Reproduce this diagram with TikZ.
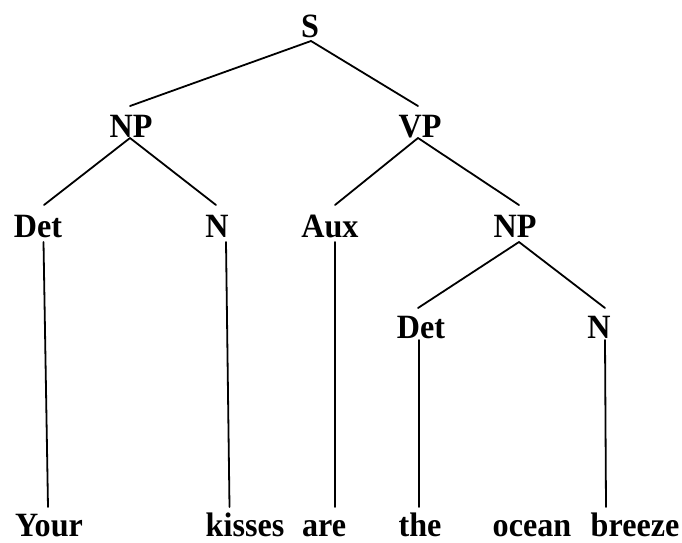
\documentclass[tikz,border=0pt]{standalone}
\usepackage{fontspec}
\setmainfont{Liberation Serif}
\newcommand{\tall}[1]{\scalebox{1.02}[1.08]{#1}}
\begin{document}
\begin{tikzpicture}[x=1pt,y=-1pt,
  lab/.style={anchor=base,inner sep=0pt,text depth=0pt,font=\fontsize{31.5}{31.5}\selectfont\bfseries},
  edge/.style={line width=1.8pt,line cap=round}]
\useasboundingbox (0,0) rectangle (682,542);
% nodes
\node[lab] (S) at (310,37) {\tall{S}};
\node[lab] (NPa) at (131,137) {\tall{NP}};
\node[lab] (VP) at (420,137) {\tall{VP}};
\node[lab] (Deta) at (38,237) {\tall{Det}};
\node[lab] (Na) at (217,237) {\tall{N}};
\node[lab] (Aux) at (330,237) {\tall{Aux}};
\node[lab] (NPb) at (515,237) {\tall{NP}};
\node[lab] (Detb) at (421,338) {\tall{Det}};
\node[lab] (Nb) at (599,338) {\tall{N}};
\node[lab] (w1) at (49,536) {\tall{Your}};
\node[lab] (w2) at (245,536) {\tall{kisses}};
\node[lab] (w3) at (324,536) {\tall{are}};
\node[lab] (w4) at (420,536) {\tall{the}};
\node[lab] (w5) at (532,536) {\tall{ocean}};
\node[lab] (w6) at (635,536) {\tall{breeze}};
% connector end points
\coordinate (S-b) at (311,41);
\coordinate (NPa-t) at (130,106);
\coordinate (VP-t) at (418,106);
\coordinate (NPa-b) at (130,138);
\coordinate (VP-b) at (418,138);
\coordinate (Deta-t) at (44,205);
\coordinate (Na-t) at (216,205);
\coordinate (Aux-t) at (335,205);
\coordinate (NPb-t) at (519,205);
\coordinate (Deta-b) at (43.5,242);
\coordinate (Na-b) at (226,242);
\coordinate (Aux-b) at (335,242);
\coordinate (NPb-b) at (519,242);
\coordinate (Detb-t) at (418,308);
\coordinate (Nb-t) at (605,308);
\coordinate (Detb-b) at (419,340);
\coordinate (Nb-b) at (605,340);
\coordinate (w1-t) at (48,507);
\coordinate (w2-t) at (229.5,507);
\coordinate (w3-t) at (335,507);
\coordinate (w4-t) at (419,507);
\coordinate (w5-t) at (606,507);
% connectors
\draw[edge] (S-b) -- (NPa-t);
\draw[edge] (S-b) -- (VP-t);
\draw[edge] (NPa-b) -- (Deta-t);
\draw[edge] (NPa-b) -- (Na-t);
\draw[edge] (VP-b) -- (Aux-t);
\draw[edge] (VP-b) -- (NPb-t);
\draw[edge] (NPb-b) -- (Detb-t);
\draw[edge] (NPb-b) -- (Nb-t);
\draw[edge] (Deta-b) -- (w1-t);
\draw[edge] (Na-b) -- (w2-t);
\draw[edge] (Aux-b) -- (w3-t);
\draw[edge] (Detb-b) -- (w4-t);
\draw[edge] (Nb-b) -- (w5-t);
\end{tikzpicture}
\end{document}
